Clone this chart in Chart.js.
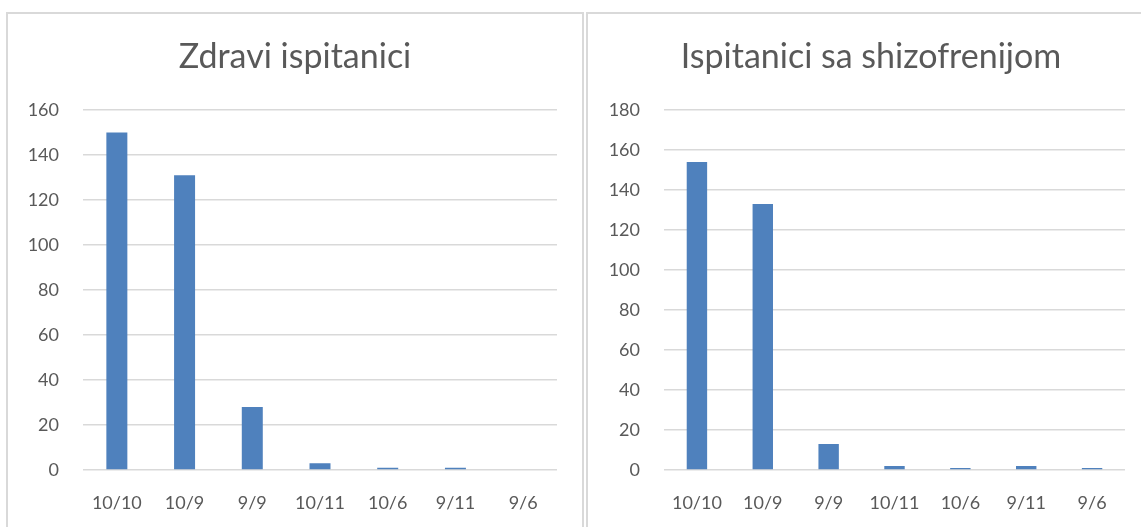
<!DOCTYPE html>
<html>
<head>
<meta charset="utf-8">
<script src="https://cdn.jsdelivr.net/npm/chart.js@4/dist/chart.umd.min.js"></script>
<style>
  html, body { margin: 0; padding: 0; background: #ffffff; overflow: hidden; width: 1141px; height: 527px; }
  .box { position: absolute; box-sizing: border-box; border: 2px solid #d9d9d9; background: #fff; }
  .cv { position: absolute; }
</style>
</head>
<body>
<div class="box" style="left:6px; top:12px; width:578px; height:600px;"></div>
<div class="box" style="left:586px; top:12px; width:578px; height:600px;"></div>
<div class="cv" style="left:8px; top:14px; width:574px; height:513px;"><canvas id="c1"></canvas></div>
<div class="cv" style="left:588px; top:14px; width:566px; height:513px;"><canvas id="c2"></canvas></div>
<script>
const categories = ["10/10", "10/9", "9/9", "10/11", "10/6", "9/11", "9/6"];
const healthyValues = [150, 131, 28, 3, 1, 1, 0];
const schizoValues = [154, 133, 13, 2, 1, 2, 1];
const healthyTitle = "Zdravi ispitanici";
const schizoTitle = "Ispitanici sa shizofrenijom";
const healthyMax = 160;
const schizoMax = 180;
const tickStep = 20;

const FONT = "Lato, 'Open Sans', sans-serif";
const TEXT = "#595959";
const BAR = "#4f81bd";

function makeChart(id, title, values, yMax, yWidth, rightPad) {
  return new Chart(document.getElementById(id), {
    type: 'bar',
    data: {
      labels: categories,
      datasets: [{ data: values, backgroundColor: BAR, borderWidth: 0,
                   barPercentage: 0.31, categoryPercentage: 1.0 }]
    },
    options: {
      responsive: true,
      maintainAspectRatio: false,
      animation: false,
      layout: { padding: 0 },
      plugins: {
        legend: { display: false },
        tooltip: { enabled: false },
        title: {
          display: true, text: title, color: TEXT,
          font: { family: FONT, size: 34, weight: 'normal', lineHeight: 1.2 },
          padding: { top: 23, bottom: 32.2 }
        }
      },
      scales: {
        x: {
          grid: { display: false, drawTicks: false },
          border: { display: false },
          ticks: { color: TEXT, font: { family: FONT, size: 18 }, padding: 22, maxRotation: 0, autoSkip: false },
          afterFit: (s) => { s.height = 57; }
        },
        y: {
          min: 0, max: yMax,
          grid: { color: '#d9d9d9', lineWidth: 1.5, drawTicks: false },
          border: { display: false },
          ticks: { stepSize: tickStep, color: TEXT, font: { family: FONT, size: 18 }, padding: 24 },
          afterFit: (s) => { s.width = yWidth; }
        },
        yRight: {
          position: 'right', min: 0, max: yMax,
          grid: { display: false, drawTicks: false },
          border: { display: false },
          ticks: { display: false },
          afterFit: (s) => { s.width = rightPad; }
        }
      }
    }
  });
}

makeChart('c1', healthyTitle, healthyValues, healthyMax, 75, 25);
makeChart('c2', schizoTitle, schizoValues, schizoMax, 76, 29);
</script>
</body>
</html>
